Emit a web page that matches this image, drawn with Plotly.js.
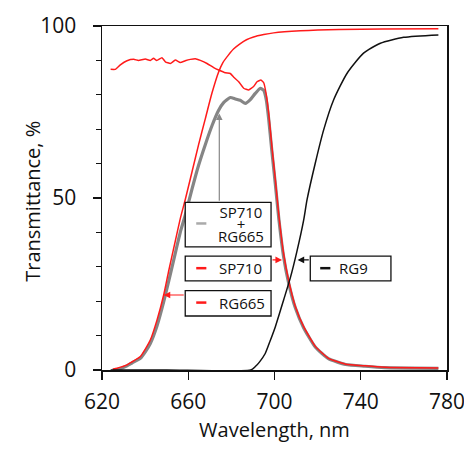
<!DOCTYPE html>
<html>
<head>
<meta charset="utf-8">
<script src="https://cdn.plot.ly/plotly-3.0.1.min.js"></script>
<style>html,body{margin:0;padding:0;background:#fff;}#chart{width:464px;height:449px;}</style>
</head>
<body>
<div id="chart"></div>
<script>
// Wavelength (nm) / transmittance (%)
const rg665X = [625, 627, 629, 631.6, 634, 637.8, 640, 642.4, 645.5, 648.6, 651, 654, 656.5, 658.6, 661.7, 664.8, 667.9, 671, 674, 676, 678.7, 681, 684, 687, 690.3, 695, 699.6, 712, 730, 750, 776];
const rg665Y = [0.2, 0.5, 0.9, 1.5, 2.4, 3.9, 6.0, 8.7, 14.5, 21.8, 29.0, 37.5, 44.5, 49.5, 57.5, 65.5, 73.0, 80.5, 86.5, 89.3, 91.6, 93.3, 94.8, 96.0, 96.8, 97.5, 98.0, 98.6, 99.0, 99.1, 99.2];

const sp710X = [624, 626.2, 628.5, 631.6, 634.7, 636.9, 640.1, 642.4, 643.9, 645.4, 647.8, 649.4, 651.7, 654, 656.3, 658.6, 661, 663.3, 665.6, 668.7, 671.8, 674.1, 677.2, 679.5, 681.1, 683.4, 685.7, 688, 690.3, 691.9, 693.7, 695.0, 696.2, 697.3, 698.8, 700.4, 702, 704.2, 706.5, 709.7, 713.5, 719, 725, 733, 742, 751, 776];
const sp710Y = [87.4, 87.4, 88.7, 89.9, 90.3, 90.0, 90.4, 90.0, 90.6, 90.0, 90.8, 89.6, 89.1, 90.1, 89.4, 89.9, 90.3, 90.5, 90.0, 89.1, 87.9, 87.2, 86.4, 86.2, 85.1, 83.8, 81.9, 81.4, 82.4, 83.8, 84.3, 83.5, 80.0, 74.6, 64.9, 55.2, 45.0, 33.9, 26.2, 18.4, 12.6, 6.8, 3.4, 1.7, 1.2, 0.8, 0.6];

const comboX = [625, 628, 631.6, 634, 637.8, 640, 642.4, 645.5, 648.6, 651, 654, 656.5, 658.6, 661.7, 664.8, 667.9, 671, 674.1, 676.4, 679.5, 681.8, 684.1, 686.5, 688.8, 691.1, 693.4, 695, 696.2, 697.3, 698.8, 700.4, 702, 704.2, 706.5, 709.7, 713.5, 719, 725, 733, 742, 751, 776];
const comboY = [0, 0.3, 1.2, 2.1, 3.4, 5.2, 7.7, 12.8, 19.8, 26.0, 34.0, 40.5, 45.0, 52.5, 59.5, 65.5, 71.0, 75.5, 77.7, 79.2, 78.8, 78.4, 77.5, 78.6, 80.4, 81.9, 81.3, 78.5, 73.0, 63.5, 54.0, 44.0, 33.0, 25.5, 18.0, 12.3, 6.6, 3.3, 1.6, 1.1, 0.7, 0.5];

const rg9X = [624, 650, 689, 691.1, 693, 695.7, 698, 700.4, 704.2, 707.3, 710.4, 713.5, 715.1, 718.9, 722.8, 727.4, 733.6, 741.3, 749.1, 759.9, 776];
const rg9Y = [0, 0, 0, 1.0, 2.3, 4.8, 8.5, 12.6, 20.3, 26.7, 34.5, 43.5, 49.5, 60.1, 69.8, 78.5, 86.2, 92.1, 95.0, 96.7, 97.4];

const xTicks = [620, 660, 700, 740, 780];
const yTicks = [0, 50, 100];

const FONT = 'Open Sans, Liberation Sans, sans-serif';

const traces = [
  {x: comboX, y: comboY, mode: 'lines', name: 'SP710 + RG665', line: {color: '#858585', width: 3.2, shape: 'spline', smoothing: 0.5}},
  {x: rg665X, y: rg665Y, mode: 'lines', name: 'RG665', line: {color: '#ff1a1a', width: 1.5, shape: 'spline', smoothing: 0.6}},
  {x: sp710X, y: sp710Y, mode: 'lines', name: 'SP710', line: {color: '#ff1a1a', width: 1.5, shape: 'spline', smoothing: 0.4}},
  {x: rg9X, y: rg9Y, mode: 'lines', name: 'RG9', line: {color: '#111', width: 1.5, shape: 'spline', smoothing: 0.6}}
];

function box(x0, x1, y0, y1) {
  return {type: 'rect', xref: 'x', yref: 'y', x0: x0, x1: x1, y0: y0, y1: y1, line: {color: '#111', width: 1.3}, fillcolor: 'white', layer: 'above'};
}
function dash(x0, x1, y, c) {
  return {type: 'line', xref: 'x', yref: 'y', x0: x0, x1: x1, y0: y, y1: y, line: {color: c, width: 2.5}, layer: 'above'};
}
function label(x, y, t, size) {
  return {x: x, y: y, xref: 'x', yref: 'y', text: t, showarrow: false, font: {family: FONT, size: size || 15, color: '#111'}, xanchor: 'center', yanchor: 'middle', align: 'center'};
}
function arrow(x, y, ax, ay, c) {
  return {x: x, y: y, ax: ax, ay: ay, xref: 'x', yref: 'y', axref: 'x', ayref: 'y', text: '', showarrow: true, arrowhead: 2, arrowsize: 1.1, arrowwidth: 1.2, arrowcolor: c, standoff: 0, startstandoff: 0};
}

const layout = {
  width: 464, height: 449,
  margin: {l: 102, r: 17, t: 26, b: 79},
  paper_bgcolor: 'white', plot_bgcolor: 'white',
  showlegend: false,
  font: {family: FONT, color: '#111'},
  xaxis: {
    range: [620, 780], tickvals: xTicks, ticktext: xTicks.map(String),
    ticks: 'outside', ticklen: 8, tickwidth: 1.3, tickcolor: '#111',
    ticklabeloverflow: 'allow', ticklabelstandoff: 4,
    showline: true, linecolor: '#111', linewidth: 1.5, mirror: true,
    showgrid: false, zeroline: false,
    tickfont: {family: FONT, size: 21, color: '#111'},
    title: {text: 'Wavelength, nm', font: {family: FONT, size: 20, color: '#111'}, standoff: 9}
  },
  yaxis: {
    range: [0, 100], tickvals: yTicks, ticktext: yTicks.map(String),
    ticks: 'outside', ticklen: 8, tickwidth: 1.3, tickcolor: '#111',
    ticklabelstandoff: 12,
    minor: {dtick: 10, ticks: 'outside', ticklen: 5, tickcolor: '#111', tickwidth: 1},
    showline: true, linecolor: '#111', linewidth: 1.5, mirror: true,
    showgrid: false, zeroline: false,
    tickfont: {family: FONT, size: 21, color: '#111'}
  },
  shapes: [
    box(658.6, 698.4, 35.8, 48.75),
    box(658.6, 698.4, 25.9, 33.1),
    box(658.6, 698.4, 15.7, 23.05),
    box(716.6, 754.0, 25.9, 33.1),
    dash(663.7, 668.4, 42.6, '#aaaaaa'),
    dash(663.7, 668.4, 29.6, '#ff1a1a'),
    dash(663.7, 668.4, 19.6, '#ff1a1a'),
    dash(721.2, 725.9, 29.6, '#111')
  ],
  annotations: [
    {x: -0.2038, y: 0.491, xref: 'paper', yref: 'paper', text: 'Transmittance, %', textangle: -90, showarrow: false,
     font: {family: FONT, size: 20, color: '#111'}, xanchor: 'center', yanchor: 'middle'},
    label(684.5, 42.3, '<span style="font-size:15px">SP710</span><br><span style="font-size:15px">+</span><br><span style="font-size:15px">RG665</span>', 9.3),
    label(684.1, 29.6, 'SP710'),
    label(684.9, 19.6, 'RG665'),
    label(736.7, 29.6, 'RG9'),
    arrow(674.4, 74.6, 674.4, 48.75, '#888888'),
    arrow(703.5, 32, 698.4, 32, '#ff1a1a'),
    arrow(710.7, 32, 716.6, 32, '#111'),
    arrow(648.6, 21.8, 658.6, 21.8, '#ff1a1a')
  ]
};

Plotly.newPlot('chart', traces, layout, {displayModeBar: false, staticPlot: true});
</script>
</body>
</html>
